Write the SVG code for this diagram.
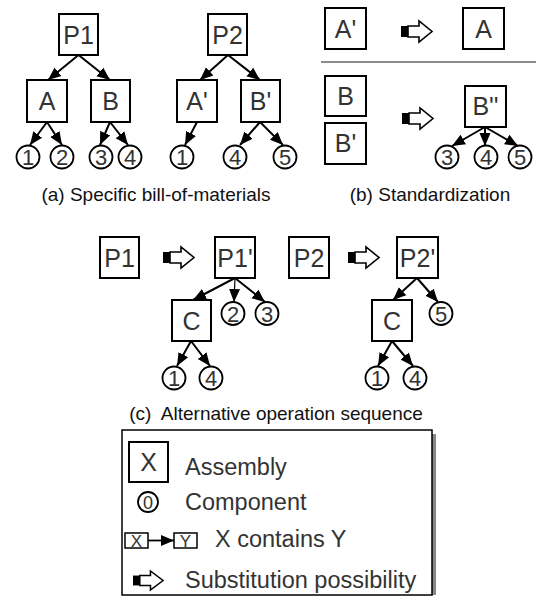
<svg xmlns="http://www.w3.org/2000/svg" xmlns:xlink="http://www.w3.org/1999/xlink" width="536" height="598" viewBox="0 0 536 598">
<style>
.box{fill:#fff;stroke:#000;stroke-width:2}
.circ{fill:#fff;stroke:#000;stroke-width:1.8}
.lbl{font-family:"Liberation Sans",Arial,sans-serif;font-size:25px;fill:#333;text-anchor:middle}
.num{font-family:"Liberation Sans",Arial,sans-serif;font-size:22px;fill:#333;text-anchor:middle}
.cap{font-family:"Liberation Sans",Arial,sans-serif;font-size:19px;fill:#111;text-anchor:middle}
.leg{font-family:"Liberation Sans",Arial,sans-serif;font-size:23.5px;fill:#333}
.con{stroke:#000;stroke-width:2;fill:none;marker-end:url(#ah)}
</style>
<defs>
<marker id="ah" markerUnits="userSpaceOnUse" markerWidth="14" markerHeight="14" viewBox="0 0 14 14" refX="13" refY="7" orient="auto">
<path d="M0,1.5 L13,7 L0,12.5 Z" fill="#000"/>
</marker>
<g id="subst">
<rect x="0" y="-5.5" width="7" height="11" fill="#000"/>
<path d="M7,-5.5 L18,-5.5 L18,-10.5 L31,0 L18,10.5 L18,5.5 L7,5.5 Z" fill="#fff" stroke="#000" stroke-width="1.6" stroke-linejoin="miter"/>
</g>
</defs>

<g id="connectors">
<line class="con" x1="78.5" y1="55" x2="48" y2="80"/>
<line class="con" x1="78.5" y1="55" x2="110" y2="80"/>
<line class="con" x1="47" y1="122" x2="30" y2="145"/>
<line class="con" x1="47" y1="122" x2="62" y2="145"/>
<line class="con" x1="110" y1="122" x2="100" y2="145"/>
<line class="con" x1="110" y1="122" x2="128" y2="145"/>
<line class="con" x1="228" y1="55" x2="200" y2="80"/>
<line class="con" x1="228" y1="55" x2="260" y2="80"/>
<line class="con" x1="197" y1="122" x2="185" y2="145"/>
<line class="con" x1="260" y1="122" x2="240" y2="145"/>
<line class="con" x1="260" y1="122" x2="283" y2="145"/>
<line class="con" x1="485" y1="127" x2="452" y2="146"/>
<line class="con" x1="485" y1="127" x2="485" y2="146"/>
<line class="con" x1="485" y1="127" x2="518" y2="146"/>
<line class="con" x1="235" y1="278" x2="193" y2="300"/>
<line class="con" x1="235" y1="278" x2="234" y2="302" style="stroke-width:1.2"/>
<line class="con" x1="235" y1="278" x2="265" y2="302"/>
<line class="con" x1="191" y1="341" x2="177" y2="366"/>
<line class="con" x1="191" y1="341" x2="210" y2="366"/>
<line class="con" x1="417" y1="278" x2="393" y2="300"/>
<line class="con" x1="417" y1="278" x2="438" y2="302"/>
<line class="con" x1="392" y1="341" x2="378" y2="366"/>
<line class="con" x1="392" y1="341" x2="413" y2="366"/>
</g>

<!-- (a) -->
<g id="a-P1"><rect class="box" x="59" y="14" width="39" height="41"/><text class="lbl" x="78.5" y="43.5">P1</text></g>
<g id="a-A"><rect class="box" x="27" y="80" width="40" height="42"/><text class="lbl" x="47" y="110">A</text></g>
<g id="a-B"><rect class="box" x="91" y="80" width="39" height="42"/><text class="lbl" x="110.5" y="110">B</text></g>
<g id="a-c1"><circle class="circ" cx="28" cy="157" r="11.5"/><text class="num" x="28" y="165">1</text></g>
<g id="a-c2"><circle class="circ" cx="62" cy="157" r="11.5"/><text class="num" x="62" y="165">2</text></g>
<g id="a-c3"><circle class="circ" cx="101" cy="157" r="11.5"/><text class="num" x="101" y="165">3</text></g>
<g id="a-c4"><circle class="circ" cx="130" cy="157" r="11.5"/><text class="num" x="130" y="165">4</text></g>
<g id="a-P2"><rect class="box" x="208" y="14" width="39" height="41"/><text class="lbl" x="227.5" y="43.5">P2</text></g>
<g id="a-A2"><rect class="box" x="177" y="80" width="40" height="42"/><text class="lbl" x="197" y="110">A'</text></g>
<g id="a-B2"><rect class="box" x="241" y="80" width="39" height="42"/><text class="lbl" x="260.5" y="110">B'</text></g>
<g id="a-c1b"><circle class="circ" cx="182" cy="157" r="11.5"/><text class="num" x="182" y="165">1</text></g>
<g id="a-c4b"><circle class="circ" cx="235" cy="157" r="11.5"/><text class="num" x="235" y="165">4</text></g>
<g id="a-c5b"><circle class="circ" cx="285" cy="157" r="11.5"/><text class="num" x="285" y="165">5</text></g>
<text class="cap" x="156" y="201">(a) Specific bill-of-materials</text>

<!-- (b) -->
<g id="b-A2"><rect class="box" x="325" y="8" width="41" height="41"/><text class="lbl" x="345.5" y="37.5">A'</text></g>
<use xlink:href="#subst" href="#subst" transform="translate(401,31.5)"/>
<g id="b-A"><rect class="box" x="463" y="8" width="41" height="41"/><text class="lbl" x="483.5" y="37.5">A</text></g>
<line x1="321" y1="62" x2="536" y2="62" stroke="#666" stroke-width="1.5"/>
<g id="b-B"><rect class="box" x="325" y="76" width="41" height="40"/><text class="lbl" x="345.5" y="105">B</text></g>
<g id="b-B2"><rect class="box" x="325" y="123" width="41" height="41"/><text class="lbl" x="345.5" y="152">B'</text></g>
<use xlink:href="#subst" href="#subst" transform="translate(402,118.5)"/>
<g id="b-B3"><rect class="box" x="465" y="86" width="41" height="41"/><text class="lbl" x="485.5" y="115">B''</text></g>
<g id="b-c3"><circle class="circ" cx="447" cy="157" r="11.5"/><text class="num" x="447" y="165">3</text></g>
<g id="b-c4"><circle class="circ" cx="486" cy="157" r="11.5"/><text class="num" x="486" y="165">4</text></g>
<g id="b-c5"><circle class="circ" cx="520" cy="157" r="11.5"/><text class="num" x="520" y="165">5</text></g>
<text class="cap" x="430" y="201">(b) Standardization</text>

<!-- (c) -->
<g id="c-P1"><rect class="box" x="100" y="237" width="39" height="41"/><text class="lbl" x="119.5" y="266.5">P1</text></g>
<use xlink:href="#subst" href="#subst" transform="translate(163,257.5)"/>
<g id="c-P1b"><rect class="box" x="215" y="237" width="40" height="41"/><text class="lbl" x="235" y="266.5">P1'</text></g>
<g id="c-C"><rect class="box" x="172" y="300" width="39" height="41"/><text class="lbl" x="191.5" y="329.5">C</text></g>
<g id="c-c2"><circle class="circ" cx="233" cy="313.5" r="11.5"/><text class="num" x="233" y="321.5">2</text></g>
<g id="c-c3"><circle class="circ" cx="267" cy="313.5" r="11.5"/><text class="num" x="267" y="321.5">3</text></g>
<g id="c-c1"><circle class="circ" cx="174" cy="378" r="11.5"/><text class="num" x="174" y="386">1</text></g>
<g id="c-c4"><circle class="circ" cx="211" cy="378" r="11.5"/><text class="num" x="211" y="386">4</text></g>
<g id="c-P2"><rect class="box" x="289" y="237" width="40" height="41"/><text class="lbl" x="309" y="266.5">P2</text></g>
<use xlink:href="#subst" href="#subst" transform="translate(348,257.5)"/>
<g id="c-P2b"><rect class="box" x="397" y="237" width="41" height="41"/><text class="lbl" x="417.5" y="266.5">P2'</text></g>
<g id="c-C2"><rect class="box" x="372" y="300" width="40" height="41"/><text class="lbl" x="392" y="329.5">C</text></g>
<g id="c-c5"><circle class="circ" cx="441" cy="313.5" r="11.5"/><text class="num" x="441" y="321.5">5</text></g>
<g id="c-c1b"><circle class="circ" cx="377" cy="378" r="11.5"/><text class="num" x="377" y="386">1</text></g>
<g id="c-c4b"><circle class="circ" cx="415" cy="378" r="11.5"/><text class="num" x="415" y="386">4</text></g>
<text class="cap" x="276" y="420" xml:space="preserve">(c)  Alternative operation sequence</text>

<!-- legend -->
<g id="legend">
<rect x="432" y="434" width="4" height="161" fill="#888"/>
<rect x="122" y="430" width="310" height="165" fill="#fff" stroke="#000" stroke-width="1.5"/>
<rect class="box" x="129" y="442" width="39" height="40"/>
<text class="lbl" x="148.5" y="471">X</text>
<text class="leg" x="185" y="475">Assembly</text>
<circle class="circ" cx="148" cy="502" r="10"/>
<text class="num" x="148" y="508.5" style="font-size:18px">0</text>
<text class="leg" x="185" y="510">Component</text>
<rect x="125" y="533" width="23" height="15" fill="#fff" stroke="#000" stroke-width="1.5"/>
<text class="lbl" x="136.5" y="546.5" style="font-size:17px">X</text>
<line x1="148" y1="540.5" x2="174" y2="540.5" stroke="#000" stroke-width="1.8" marker-end="url(#ah)"/>
<rect x="174" y="533" width="23" height="15" fill="#fff" stroke="#000" stroke-width="1.5"/>
<text class="lbl" x="185.5" y="546.5" style="font-size:17px">Y</text>
<text class="leg" x="215" y="547">X contains Y</text>
<use xlink:href="#subst" href="#subst" transform="translate(133,580.5) scale(0.97,0.9)"/>
<text class="leg" x="185" y="588">Substitution possibility</text>
</g>
</svg>
